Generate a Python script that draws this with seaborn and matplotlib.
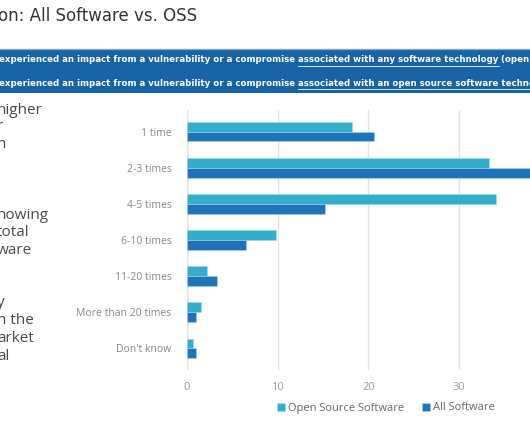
import pandas as pd
import seaborn as sns
from matplotlib import pyplot as plt
from matplotlib.patches import Rectangle
from matplotlib.lines import Line2D

categories = ["1 time", "2-3 times", "4-5 times", "6-10 times",
              "11-20 times", "More than 20 times", "Don't know"]
oss_values = [18.2, 33.3, 34.1, 9.8, 2.2, 1.5, 0.7]
all_values = [20.6, 38.5, 15.2, 6.5, 3.3, 1.0, 1.0]
series_names = ["Open Source Software", "All Software"]
x_ticks = [0, 10, 20, 30]

title_text = "on: All Software vs. OSS"
banner_lines = [
    ["experienced an impact from a vulnerability or a compromise ",
     "associated with any software technology", " (open source and proprietary)"],
    ["experienced an impact from a vulnerability or a compromise ",
     "associated with an open source software technology", ""],
]
side_text = [("higher", 110), ("r", 127), ("n", 145),
             ("howing", 215), ("total", 233), ("ware", 251),
             ("y", 302), ("n the", 320), ("arket", 338), ("al", 356)]

W, H = 530, 442


def px(x, y):
    # pixel (from top-left) to figure coords
    return x / W, 1 - y / H


def main():
    df = pd.DataFrame({
        'category': categories * 2,
        'value': oss_values + all_values,
        'series': [series_names[0]] * len(categories) + [series_names[1]] * len(categories),
    })

    sns.set_style("white")
    plt.rcParams['font.family'] = ['Open Sans', 'DejaVu Sans']

    fig = plt.figure(figsize=(W / 100, H / 100), dpi=100)

    # header
    fig.text(*px(-2, 16), title_text, fontsize=12, color='#333333', va='center',
             family='DejaVu Sans')
    fig.patches.append(Rectangle(px(0, 93), 1, 44 / H, transform=fig.transFigure,
                                 facecolor='#1763a5', edgecolor='none'))
    fig.lines.append(Line2D([0, 1], [px(0, 49)[1]] * 2, transform=fig.transFigure,
                            color='#7fa9d0', lw=1))

    fig.canvas.draw()
    renderer = fig.canvas.get_renderer()
    for y, parts in zip([60, 83], banner_lines):
        x = -1
        for j, part in enumerate(parts):
            if not part:
                continue
            t = fig.text(*px(x, y), part, fontsize=6.2, color='white', weight='bold',
                         va='center', family='DejaVu Sans')
            bb = t.get_window_extent(renderer)
            if j == 1:
                yy = px(0, y + 6)[1]
                fig.lines.append(Line2D([bb.x0 / W, bb.x1 / W], [yy, yy],
                                        transform=fig.transFigure, color='white', lw=0.6))
            x = bb.x1

    for txt, y in side_text:
        fig.text(*px(-3, y), txt, fontsize=11, color='#4a4a4a', va='center')

    # chart
    left, right = 187, 530
    top, bottom = 110, 370
    ax = fig.add_axes([left / W, 1 - bottom / H, (right - left) / W, (bottom - top) / H])
    sns.barplot(data=df, y='category', x='value', hue='series', orient='h', width=0.54,
                palette=['#33adc9', '#1f73b9'], saturation=1, edgecolor='#a6d8ea',
                linewidth=0.4, ax=ax)

    ax.set_xlim(0, (right - left) / 9.07)
    ax.set_ylim(6.6, -0.6)
    ax.set_xticks(x_ticks)
    ax.set_xlabel('')
    ax.set_ylabel('')
    ax.xaxis.grid(True, color='#e2e2e2', lw=1)
    ax.set_axisbelow(True)
    for pos in ["top", "bottom", "right", "left"]:
        ax.spines[pos].set_visible(False)
    ax.axvline(0, color='#d8d8d8', lw=1, zorder=0)
    ax.tick_params(axis='y', length=0, pad=11, labelsize=7.5, labelcolor='#888888')
    ax.tick_params(axis='x', length=0, pad=9, labelsize=8, labelcolor='#999999')

    handles, labels = ax.get_legend_handles_labels()
    ax.legend(handles, labels, loc='center', bbox_to_anchor=px(386, 408),
              bbox_transform=fig.transFigure, ncol=2, frameon=False, fontsize=8,
              labelcolor='#666666', handlelength=0.7, handleheight=0.7,
              handletextpad=0.3, columnspacing=1.6)

    fig.savefig('out.png', dpi=100)


if __name__ == '__main__':
    main()
